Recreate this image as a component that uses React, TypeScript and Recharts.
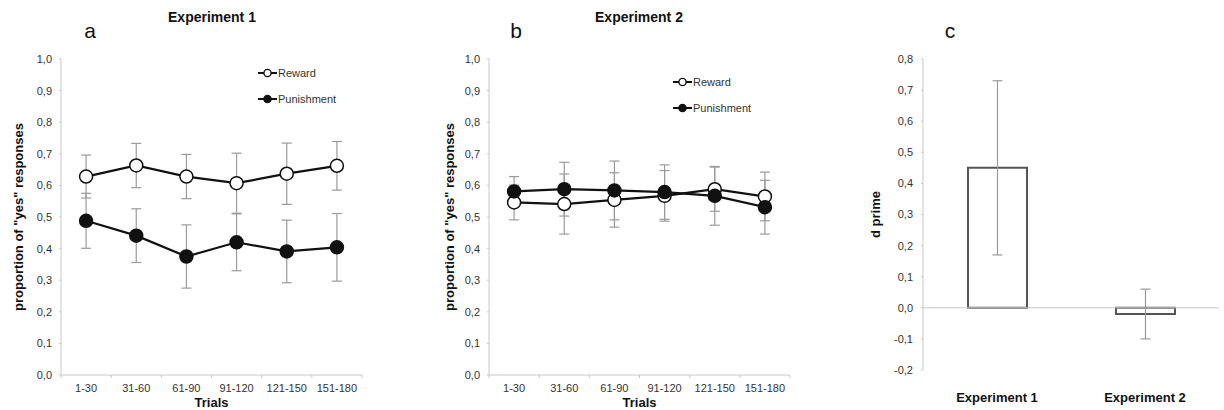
import React from "react"
import {
  ComposedChart,
  Line,
  BarChart,
  Bar,
  XAxis,
  YAxis,
  ErrorBar,
  ReferenceLine,
  Label,
} from "recharts"

const trialBins = ["1-30", "31-60", "61-90", "91-120", "121-150", "151-180"]

const exp1Reward = [0.628, 0.663, 0.628, 0.607, 0.637, 0.662]
const exp1RewardErr = [0.068, 0.07, 0.07, 0.095, 0.097, 0.077]
const exp1Punishment = [0.488, 0.441, 0.375, 0.42, 0.391, 0.404]
const exp1PunishmentErr = [0.087, 0.085, 0.1, 0.09, 0.099, 0.107]

const exp2Reward = [0.546, 0.541, 0.554, 0.567, 0.588, 0.565]
const exp2RewardErr = [0.055, 0.095, 0.086, 0.08, 0.07, 0.077]
const exp2Punishment = [0.581, 0.588, 0.584, 0.579, 0.567, 0.531]
const exp2PunishmentErr = [0.047, 0.085, 0.093, 0.086, 0.093, 0.085]

const experiments = ["Experiment 1", "Experiment 2"]
const dPrime = [0.45, -0.02]
const dPrimeErr = [0.28, 0.08]

const proportionTicks = [0, 0.1, 0.2, 0.3, 0.4, 0.5, 0.6, 0.7, 0.8, 0.9, 1.0]
const dPrimeTicks = [-0.2, -0.1, 0, 0.1, 0.2, 0.3, 0.4, 0.5, 0.6, 0.7, 0.8]

const seriesNames = ["Reward", "Punishment"]
const seriesFills = ["#ffffff", "#111111"]

const FONT = "'Liberation Sans', Arial, sans-serif"
const AXIS_GREY = "#c8c8c8"
const ERR_GREY = "#9a9a9a"
const INK = "#111111"
const TICK_GAP = 9

const comma = (v: number) => v.toFixed(1).replace(".", ",")

function buildRows(reward: number[], rewardErr: number[], punish: number[], punishErr: number[]) {
  return trialBins.map((bin, i) => ({
    bin,
    reward: reward[i],
    rewardErr: rewardErr[i],
    punishment: punish[i],
    punishmentErr: punishErr[i],
  }))
}

// category label plus small tick marks on the bin edges (Excel style)
function TrialTick(props: any) {
  const { x, y, payload, index, visibleTicksCount } = props
  const half = payload.offset || 0
  const axisY = y - TICK_GAP
  const last = index === visibleTicksCount - 1
  return (
    <g>
      <line x1={x - half} x2={x - half} y1={axisY} y2={axisY + 3} stroke={AXIS_GREY} />
      {last && <line x1={x + half} x2={x + half} y1={axisY} y2={axisY + 3} stroke={AXIS_GREY} />}
      <text x={x} y={y} dy="0.71em" textAnchor="middle" fontSize={11} fill="#333" fontFamily={FONT}>
        {payload.value}
      </text>
    </g>
  )
}

function SeriesLegend({ left, top }: { left: number; top: number }) {
  return (
    <div style={{ position: "absolute", left, top, fontFamily: FONT, fontSize: 11, color: "#333" }}>
      {seriesNames.map((name, i) => (
        <div key={name} style={{ display: "flex", alignItems: "center", height: 26 }}>
          <svg width={19} height={10}>
            <line x1={0} y1={5} x2={19} y2={5} stroke={INK} strokeWidth={2} />
            <circle cx={9.5} cy={5} r={3.6} fill={seriesFills[i]} stroke={INK} strokeWidth={1.4} />
          </svg>
          <span style={{ marginLeft: 1 }}>{name}</span>
        </div>
      ))}
    </div>
  )
}

interface TrialPanelProps {
  rows: any[]
  left: number
  width: number
  marginLeft: number
  marginRight: number
  labelOffset: number
  legendLeft: number
  legendTop: number
}

function TrialPanel({ rows, left, width, marginLeft, marginRight, labelOffset, legendLeft, legendTop }: TrialPanelProps) {
  return (
    <div style={{ position: "absolute", left, top: 0, width, height: 410 }}>
      <ComposedChart
        width={width}
        height={410}
        data={rows}
        margin={{ top: 59, right: marginRight, bottom: 0, left: marginLeft }}
      >
        <XAxis
          dataKey="bin"
          scale="band"
          height={35}
          axisLine={{ stroke: AXIS_GREY }}
          tickLine={false}
          tickSize={0}
          tickMargin={TICK_GAP}
          tick={<TrialTick />}
          interval={0}
        >
          <Label
            value="Trials"
            position="insideBottom"
            offset={3}
            style={{ fontSize: 13, fontWeight: 700, fill: INK, fontFamily: FONT }}
          />
        </XAxis>
        <YAxis
          width={61}
          domain={[0, 1]}
          ticks={proportionTicks}
          interval={0}
          stroke={AXIS_GREY}
          tickSize={2}
          tickMargin={7}
          tickFormatter={comma}
          tick={{ fontSize: 11, fill: "#333", fontFamily: FONT }}
        >
          <Label
            value={'proportion of "yes" responses'}
            angle={-90}
            position="insideLeft"
            offset={labelOffset}
            style={{ textAnchor: "middle", fontSize: 13, fontWeight: 700, fill: INK, fontFamily: FONT }}
          />
        </YAxis>
        <Line
          dataKey="reward"
          name="Reward"
          stroke={INK}
          strokeWidth={2.2}
          dot={{ r: 6.5, fill: seriesFills[0], stroke: INK, strokeWidth: 1.5 }}
          isAnimationActive={false}
        >
          <ErrorBar dataKey="rewardErr" width={5} stroke={ERR_GREY} strokeWidth={1.2} />
        </Line>
        <Line
          dataKey="punishment"
          name="Punishment"
          stroke={INK}
          strokeWidth={2.2}
          dot={{ r: 6.5, fill: seriesFills[1], stroke: INK, strokeWidth: 1.5 }}
          isAnimationActive={false}
        >
          <ErrorBar dataKey="punishmentErr" width={5} stroke={ERR_GREY} strokeWidth={1.2} />
        </Line>
      </ComposedChart>
      <SeriesLegend left={legendLeft} top={legendTop} />
    </div>
  )
}

const heading: React.CSSProperties = {
  position: "absolute",
  fontFamily: FONT,
  fontSize: 14,
  fontWeight: 700,
  color: INK,
  transform: "translateX(-50%)",
  whiteSpace: "nowrap",
}

const letter: React.CSSProperties = {
  position: "absolute",
  fontFamily: FONT,
  fontSize: 21,
  color: INK,
  transform: "translateX(-50%)",
}

export default function App() {
  const exp1Rows = buildRows(exp1Reward, exp1RewardErr, exp1Punishment, exp1PunishmentErr)
  const exp2Rows = buildRows(exp2Reward, exp2RewardErr, exp2Punishment, exp2PunishmentErr)
  const dRows = experiments.map((name, i) => ({ name, d: dPrime[i], err: dPrimeErr[i] }))

  return (
    <div style={{ position: "absolute", left: 0, top: 0, width: 1224, height: 410, background: "#fff", overflow: "hidden" }}>
      <div style={{ ...heading, left: 212, top: 9 }}>Experiment 1</div>
      <div style={{ ...letter, left: 90, top: 19 }}>a</div>
      <div style={{ ...heading, left: 639, top: 9 }}>Experiment 2</div>
      <div style={{ ...letter, left: 516, top: 19 }}>b</div>
      <div style={{ ...letter, left: 950, top: 19 }}>c</div>

      <TrialPanel
        rows={exp1Rows}
        left={0}
        width={400}
        marginLeft={0}
        marginRight={38}
        labelOffset={18}
        legendLeft={258}
        legendTop={60}
      />
      <TrialPanel
        rows={exp2Rows}
        left={400}
        width={420}
        marginLeft={28}
        marginRight={30}
        labelOffset={21}
        legendLeft={273}
        legendTop={69}
      />

      <div style={{ position: "absolute", left: 820, top: 0 }}>
        <BarChart
          width={404}
          height={410}
          data={dRows}
          margin={{ top: 59, right: 5, bottom: 10, left: 43 }}
        >
          <XAxis
            dataKey="name"
            height={30}
            axisLine={false}
            tickLine={false}
            tickSize={0}
            tickMargin={23}
            tick={{ fontSize: 13, fontWeight: 700, fill: INK, fontFamily: FONT }}
          />
          <YAxis
            width={60}
            domain={[-0.2, 0.8]}
            ticks={dPrimeTicks}
            interval={0}
            stroke={AXIS_GREY}
            tickSize={2}
            tickMargin={8}
            tickFormatter={comma}
            tick={{ fontSize: 11, fill: "#333", fontFamily: FONT }}
          >
            <Label
              value="d prime"
              angle={-90}
              position="insideLeft"
              offset={12}
              style={{ textAnchor: "middle", fontSize: 13, fontWeight: 700, fill: INK, fontFamily: FONT }}
            />
          </YAxis>
          <ReferenceLine y={0} stroke={AXIS_GREY} strokeWidth={1} />
          <Bar dataKey="d" barSize={59} fill="#ffffff" stroke="#555555" strokeWidth={2} isAnimationActive={false}>
            <ErrorBar dataKey="err" width={5} stroke={ERR_GREY} strokeWidth={1.2} />
          </Bar>
        </BarChart>
      </div>
    </div>
  )
}
